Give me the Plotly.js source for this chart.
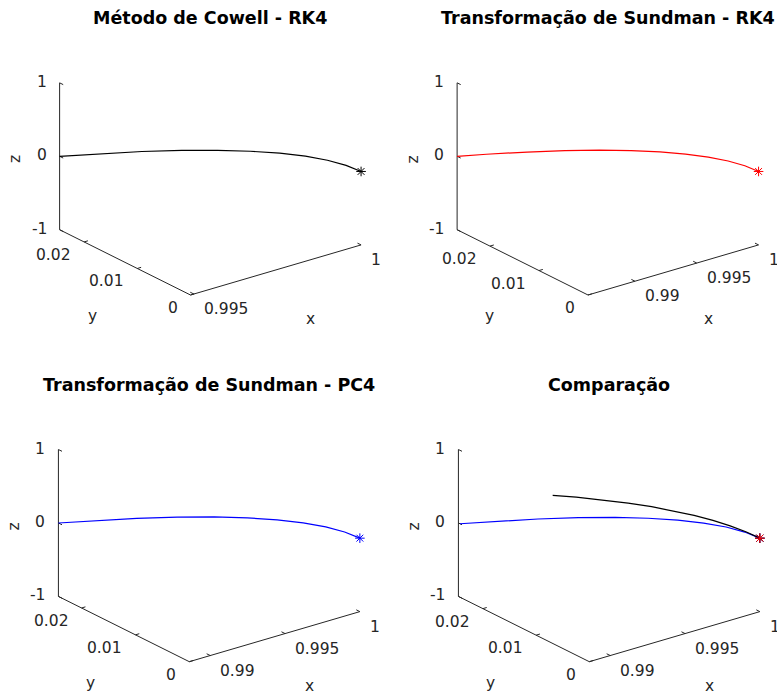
<!DOCTYPE html>
<html>
<head>
<meta charset="utf-8">
<script src="https://cdn.plot.ly/plotly-3.0.1.min.js"></script>
<style>html,body{margin:0;padding:0;background:#fff;}#plot{width:777px;height:691px;}</style>
</head>
<body>
<div id="plot"></div>
<script>
// ---- data ----
const titles = ["Método de Cowell - RK4", "Transformação de Sundman - RK4",
                "Transformação de Sundman - PC4", "Comparação"];

// Cowell RK4 trajectory (black)
const cowellX = [1.0, 0.99995, 0.99979, 0.99953, 0.99916, 0.99868, 0.99810, 0.99742, 0.99663, 0.99573, 0.9949];
const cowellY = [0.0, 0.0025, 0.005, 0.0075, 0.01, 0.0125, 0.015, 0.0175, 0.02, 0.0225, 0.0246];
const cowellZ = [0, 0, 0, 0, 0, 0, 0, 0, 0, 0, 0];

// Sundman RK4 trajectory (red)
const sundRKX = [1.0, 0.99988, 0.99952, 0.99891, 0.99806, 0.99698, 0.99564, 0.99407, 0.99226, 0.99020, 0.98790, 0.9862];
const sundRKY = [0.0, 0.0025, 0.005, 0.0075, 0.01, 0.0125, 0.015, 0.0175, 0.02, 0.0225, 0.025, 0.0267];
const sundRKZ = [0, 0, 0, 0, 0, 0, 0, 0, 0, 0, 0, 0];

// Sundman PC4 trajectory (blue)
const sundPCX = [1.0, 0.99988, 0.99952, 0.99891, 0.99807, 0.99698, 0.99566, 0.99409, 0.99228, 0.99023, 0.9886];
const sundPCY = [0.0, 0.0025, 0.005, 0.0075, 0.01, 0.0125, 0.015, 0.0175, 0.02, 0.0225, 0.0243];
const sundPCZ = [0, 0, 0, 0, 0, 0, 0, 0, 0, 0, 0];

// tick labels
const xTicks1 = [0.995, 1];
const xTicksOther = [0.99, 0.995, 1];
const yTicks = [0, 0.01, 0.02];
const zTicks = [-1, 0, 1];
const zRange = [-1, 1];

// ---- view (Octave-like 3-D axes, orthographic) ----
const VIEW = {az: -37.5, el: 22.5};
const BOX = {x: 215, y: 215, z: 159};          // box edge lengths in px
const rad = Math.PI / 180;
const ca = Math.cos(VIEW.az * rad), sa = Math.sin(VIEW.az * rad), se = Math.sin(VIEW.el * rad), ce = Math.cos(VIEW.el * rad);
const VX = {u: BOX.x * ca, v: -BOX.x * sa * se};
const VY = {u: BOX.y * sa, v: BOX.y * ca * se};
const VZ = {u: 0, v: BOX.z * ce};

const FONT = "DejaVu Sans, sans-serif";
const AXC = '#262626';
const W = 777, H = 691;

function lims(xs, ys) {
  const ax = [].concat(...xs), ay = [].concat(...ys);
  return {x0: Math.min(...ax), x1: Math.max(...ax), y0: Math.min(...ay), y1: Math.max(...ay), z0: zRange[0], z1: zRange[1]};
}
function proj(L, x, y, z) {
  const fx = (x - L.x0) / (L.x1 - L.x0), fy = (y - L.y0) / (L.y1 - L.y0), fz = (z - L.z0) / (L.z1 - L.z0);
  return {u: fx * VX.u + fy * VY.u + fz * VZ.u, v: fx * VX.v + fy * VY.v + fz * VZ.v};
}
function unit(vec) { const n = Math.hypot(vec.u, vec.v); return {u: vec.u / n, v: vec.v / n}; }

const traces = [];
const annotations = [];
const layout = {
  width: W, height: H, margin: {l: 0, r: 0, t: 0, b: 0},
  paper_bgcolor: '#fff', plot_bgcolor: 'rgba(0,0,0,0)', showlegend: false, hovermode: false
};

// panel: k index, quadrant [px0,px1,py0,py1] in pixels, box corner in pixels
function panel(k, quad, corner, series, xTicks, title, titleY) {
  const xa = 'xaxis' + (k === 1 ? '' : k), ya = 'yaxis' + (k === 1 ? '' : k);
  const xr = 'x' + (k === 1 ? '' : k), yr = 'y' + (k === 1 ? '' : k);
  const [px0, px1, py0, py1] = quad;
  layout[xa] = {domain: [px0 / W, px1 / W], range: [px0 - corner[0], px1 - corner[0]], visible: false, fixedrange: true, anchor: yr};
  layout[ya] = {domain: [1 - py1 / H, 1 - py0 / H], range: [corner[1] - py1, corner[1] - py0], visible: false, fixedrange: true, anchor: xr};
  const L = lims(series.map(s => s.x), series.map(s => s.y));

  // axis lines
  const o = proj(L, L.x0, L.y0, L.z0), xe = proj(L, L.x1, L.y0, L.z0), ye = proj(L, L.x0, L.y1, L.z0), ze = proj(L, L.x0, L.y1, L.z1);
  const lu = [o.u, xe.u, null, o.u, ye.u, null, ye.u, ze.u], lv = [o.v, xe.v, null, o.v, ye.v, null, ye.v, ze.v];
  // ticks
  const TL = 4;
  const dy = unit(VY), dx = unit(VX);
  xTicks.forEach(t => { const p = proj(L, t, L.y0, L.z0); lu.push(null, p.u, p.u + TL * dy.u); lv.push(null, p.v, p.v + TL * dy.v);
    annotations.push({xref: xr, yref: yr, x: p.u + 8, y: p.v - 15, text: String(t), xanchor: 'left', yanchor: 'middle'}); });
  yTicks.forEach(t => { const p = proj(L, L.x0, t, L.z0); lu.push(null, p.u, p.u + TL * dx.u); lv.push(null, p.v, p.v + TL * dx.v);
    annotations.push({xref: xr, yref: yr, x: p.u - 11, y: p.v - 13, text: String(t), xanchor: 'right', yanchor: 'middle'}); });
  zTicks.forEach(t => { const p = proj(L, L.x0, L.y1, t); lu.push(null, p.u, p.u - TL * dy.u); lv.push(null, p.v, p.v - TL * dy.v);
    annotations.push({xref: xr, yref: yr, x: p.u - 11, y: p.v + 1, text: String(t), xanchor: 'right', yanchor: 'middle'}); });
  traces.push({type: 'scatter', mode: 'lines', xaxis: xr, yaxis: yr, x: lu, y: lv, line: {color: AXC, width: 1}, hoverinfo: 'skip', cliponaxis: false});

  // axis titles
  const xm = {u: (o.u + xe.u) / 2, v: (o.v + xe.v) / 2}, ym = {u: (o.u + ye.u) / 2, v: (o.v + ye.v) / 2}, zm = {u: (ye.u + ze.u) / 2, v: (ye.v + ze.v) / 2};
  annotations.push({xref: xr, yref: yr, x: xm.u + 35, y: xm.v - 49, text: 'x', xanchor: 'center', yanchor: 'middle'});
  annotations.push({xref: xr, yref: yr, x: ym.u - 33, y: ym.v - 54, text: 'y', xanchor: 'center', yanchor: 'middle'});
  annotations.push({xref: xr, yref: yr, x: zm.u - 44, y: zm.v - 3, text: 'z', xanchor: 'center', yanchor: 'middle', textangle: -90});

  // data curves
  series.forEach(s => {
    const P = s.x.map((xv, i) => proj(L, xv, s.y[i], s.z[i]));
    traces.push({type: 'scatter', mode: 'lines', xaxis: xr, yaxis: yr, x: P.map(p => p.u), y: P.map(p => p.v),
                 line: {color: s.color, width: 1.2}, hoverinfo: 'skip'});
  });
  // initial-point markers
  series.forEach(s => {
    const p = proj(L, s.x[0], s.y[0], s.z[0]);
    traces.push({type: 'scatter', mode: 'markers', xaxis: xr, yaxis: yr, x: [p.u], y: [p.v], cliponaxis: false,
                 marker: {symbol: 'asterisk-open', size: 8, color: s.color, line: {color: s.color, width: 1}}, hoverinfo: 'skip'});
  });

  // title
  annotations.push({xref: 'paper', yref: 'paper', x: (corner[0] + (xe.u + ye.u) / 2) / W, y: 1 - titleY / H, text: title,
                    xanchor: 'center', yanchor: 'middle', font: {family: FONT, size: 17.5, color: '#000', weight: 'bold'}});
}

const cowell = {x: cowellX, y: cowellY, z: cowellZ, color: '#000000'};
const sundRK = {x: sundRKX, y: sundRKY, z: sundRKZ, color: '#ff0000'};
const sundPC = {x: sundPCX, y: sundPCY, z: sundPCZ, color: '#0000ff'};

panel(1, [0, 388.5, 0, 345.5], [190.5, 295], [cowell], xTicks1, titles[0], 18);
panel(2, [388.5, 777, 0, 345.5], [588, 295], [sundRK], xTicksOther, titles[1], 18);
panel(3, [0, 388.5, 345.5, 691], [189.3, 661.7], [sundPC], xTicksOther, titles[2], 385);
panel(4, [388.5, 777, 345.5, 691], [589.3, 661.7],
      [sundPC, cowell, {x: sundRKX.slice(0, 1), y: sundRKY.slice(0, 1), z: sundRKZ.slice(0, 1), color: '#ff0000'}],
      xTicksOther, titles[3], 385);

annotations.forEach(a => { a.showarrow = false; if (!a.font) a.font = {family: FONT, size: 15.5, color: AXC}; });
layout.annotations = annotations;
Plotly.newPlot('plot', traces, layout, {displayModeBar: false, staticPlot: true});
</script>
</body>
</html>
